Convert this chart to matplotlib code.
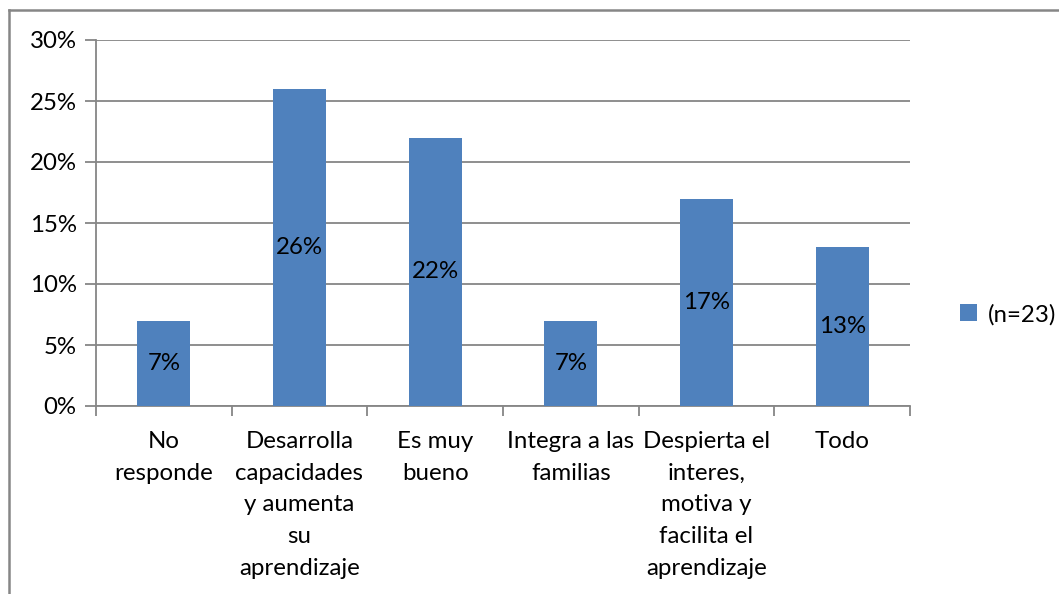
import matplotlib.pyplot as plt
from matplotlib.lines import Line2D
import numpy as np

categories = ["No\nresponde", "Desarrolla\ncapacidades\ny aumenta\nsu\naprendizaje", "Es muy\nbueno",
              "Integra a las\nfamilias", "Despierta el\ninteres,\nmotiva y\nfacilita el\naprendizaje", "Todo"]
values = [7, 26, 22, 7, 17, 13]
series_name = "(n=23)"

plt.rcParams['font.family'] = ['Lato', 'DejaVu Sans']
blue = "#4F81BD"
grid = "#868686"
fs = 17.3

fig = plt.figure(figsize=(10.59, 5.94), dpi=100)
ax = fig.add_axes([96 / 1059, 1 - 406 / 594, (910 - 96) / 1059, (406 - 40) / 594])

x = np.arange(len(categories))
ax.bar(x, values, width=0.39, color=blue, label=series_name, zorder=3)
for xi, v in zip(x, values):
    ax.text(xi, v / 2, "{}%".format(v), ha="center", va="center", fontsize=fs, color="black", zorder=4)

ax.set_xlim(-0.5, len(categories) - 0.5)
ax.set_ylim(0, 30)
ax.set_yticks(range(0, 31, 5))
ax.set_yticklabels(["{}%".format(t) for t in range(0, 31, 5)], fontsize=fs)
ax.yaxis.grid(True, color=grid, linewidth=1.3, zorder=0)
ax.tick_params(axis="y", length=8, color=grid, width=1.3, pad=6)

ax.set_xticks(x)
ax.set_xticklabels(categories, fontsize=fs, linespacing=1.63, va="top")
ax.set_xticks(np.arange(-0.5, len(categories)), minor=True)
ax.tick_params(axis="x", which="major", length=0, pad=18)
ax.tick_params(axis="x", which="minor", length=7, color=grid, width=1.3)

for s in ["top", "right"]:
    ax.spines[s].set_visible(False)
ax.spines["left"].set_color(grid)
ax.spines["bottom"].set_color(grid)
ax.spines["left"].set_linewidth(1.3)
ax.spines["bottom"].set_linewidth(1.3)

ax.legend(loc="center left", bbox_to_anchor=(1.035, 0.25), frameon=False, fontsize=fs,
          handlelength=0.72, handleheight=0.72, handletextpad=0.45)

bx, by = 8.5 / 1059, 1 - 10 / 594
fig.add_artist(Line2D([bx, bx], [0, by], transform=fig.transFigure, color=grid, linewidth=1.8))
fig.add_artist(Line2D([bx, 1], [by, by], transform=fig.transFigure, color=grid, linewidth=1.8))

fig.savefig("out.png", dpi=100)
